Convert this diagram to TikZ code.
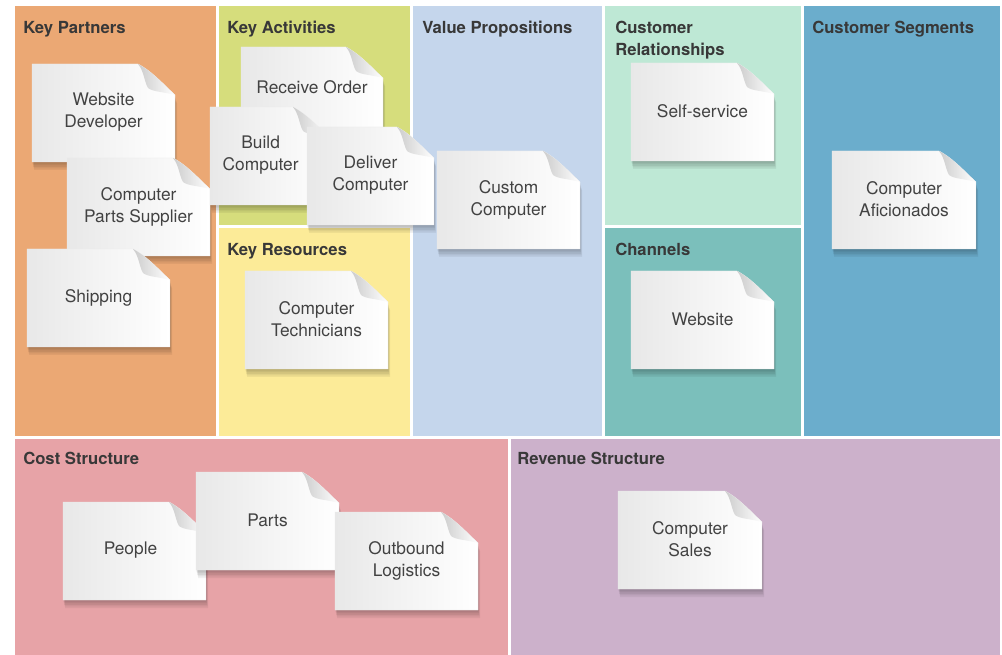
\documentclass[tikz,border=0pt]{standalone}
\usepackage{fontspec}
\setmainfont{TeX Gyre Heros}
\usetikzlibrary{positioning}
\definecolor{partners}{HTML}{EBA874}
\definecolor{activities}{HTML}{D6DD7C}
\definecolor{resources}{HTML}{FCEB98}
\definecolor{valueprop}{HTML}{C5D6EC}
\definecolor{relations}{HTML}{BEE8D5}
\definecolor{channels}{HTML}{7BBFBB}
\definecolor{segments}{HTML}{6BADCC}
\definecolor{costs}{HTML}{E7A3A7}
\definecolor{revenue}{HTML}{CCB1CB}
\definecolor{headtext}{HTML}{383838}
\definecolor{cardtext}{HTML}{424242}
\tikzset{
  panelhead/.style={anchor=north west, inner sep=0pt, align=left,
    font=\bfseries\fontsize{12.5}{16.5}\selectfont, text=headtext},
  cardlabel/.style={inner sep=0pt, align=center,
    font=\fontsize{13}{16.5}\selectfont, text=cardtext},
  cardbody/.style={left color=black!9, right color=white, draw=black!8, line width=0.3pt},
  cardfold/.style={left color=black!20, right color=white},
  cardshadow/.style={fill=black, opacity=0.055}
}
% outline of a card of width #1 (pixels), folded top right corner
\newcommand{\cardoutline}[1]{(0,0) -- (#1-37,0) .. controls (#1-22,8) and (#1-10,22) .. (#1,31) -- (#1,98) -- (0,98) -- cycle}
% [label options]{name}{left}{top}{width}{text}
\newcommand{\notecard}[6][]{%
  \begin{scope}[shift={(#3,#4)}]
    \foreach \s in {1,...,5}
      \fill[cardshadow, shift={(0.4*\s,1.6*\s)}] \cardoutline{#5};
    \shade[cardbody] \cardoutline{#5};
    \shade[cardfold] (#5-37,0) .. controls (#5-22,8) and (#5-10,22) .. (#5,31)
      .. controls (#5-10,28) and (#5-22,28) .. (#5-27,24)
      .. controls (#5-31,17) and (#5-31,7) .. (#5-37,0) -- cycle;
  \end{scope}
  \node[cardlabel, #1] (#2) at ({#3+#5/2},{#4+48.5}) {#6};
}

\begin{document}
\begin{tikzpicture}[x=0.75pt,y=-0.75pt]
  \useasboundingbox (0,0) rectangle (1002,655);
  \fill[white] (0,0) rectangle (1002,655);

  % panels
  \fill[partners]   (15,6)   rectangle (216,436);
  \fill[activities] (219,6)  rectangle (410,225);
  \fill[resources]  (219,228) rectangle (410,436);
  \fill[valueprop]  (413,6)  rectangle (602,436);
  \fill[relations]  (605,6)  rectangle (801,225);
  \fill[channels]   (605,228) rectangle (801,436);
  \fill[segments]   (804,6)  rectangle (1000,436);
  \fill[costs]      (15,439) rectangle (508,655);
  \fill[revenue]    (511,439) rectangle (1000,655);

  \node[panelhead] (kphead) at (23,21)   {Key Partners};
  \node[panelhead] (kahead) at (227,21)  {Key Activities};
  \node[panelhead] (krhead) at (227,243) {Key Resources};
  \node[panelhead] (vphead) at (422,21)  {Value Propositions};
  \node[panelhead] (crhead) at (615,21)  {Customer\\Relationships};
  \node[panelhead] (chhead) at (615,243) {Channels};
  \node[panelhead] (cshead) at (812,21)  {Customer Segments};
  \node[panelhead] (cohead) at (23,452)  {Cost Structure};
  \node[panelhead] (rvhead) at (517,452) {Revenue Structure};

  % cards
  \notecard{webdev}{32}{64}{143}{Website\\Developer}
  \notecard{parts}{67}{158}{143}{Computer\\Parts Supplier}
  \notecard{shipping}{27}{249}{143}{Shipping}
  \notecard[yshift=6pt]{receive}{241}{47}{142}{Receive Order}
  \notecard[xshift=-7pt]{build}{210}{107}{120}{Build\\Computer}
  \notecard{deliver}{307}{127}{127}{Deliver\\Computer}
  \notecard{custom}{437}{151}{143}{Custom\\Computer}
  \notecard{techs}{245}{271}{143}{Computer\\Technicians}
  \notecard{selfserv}{631}{63}{143}{Self-service}
  \notecard{website}{631}{271}{143}{Website}
  \notecard{aficion}{832}{151}{144}{Computer\\Aficionados}
  \notecard[xshift=-3pt]{people}{63}{502}{143}{People}
  \notecard{partcost}{196}{472}{143}{Parts}
  \notecard{outbound}{335}{512}{143}{Outbound\\Logistics}
  \notecard{sales}{618}{491}{144}{Computer\\Sales}
\end{tikzpicture}
\end{document}
